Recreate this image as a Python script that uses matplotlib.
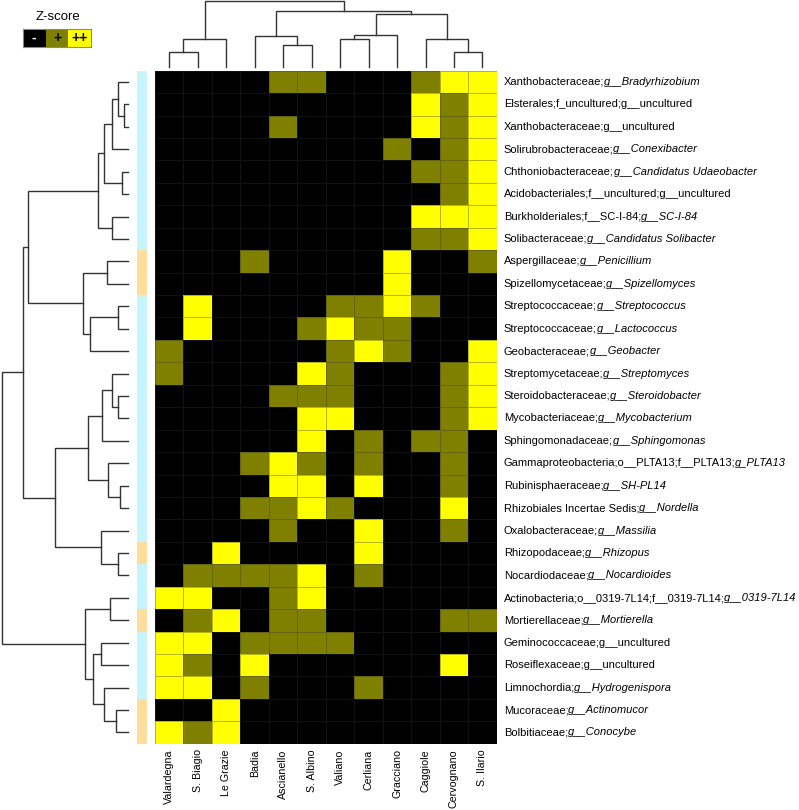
import numpy as np
import matplotlib.pyplot as plt
from matplotlib.colors import ListedColormap, BoundaryNorm

plt.rcParams['font.family'] = ['Liberation Sans', 'DejaVu Sans']

sites = ["Valardegna", "S. Biagio", "Le Grazie", "Badia", "Ascianello", "S. Albino",
         "Valiano", "Cerliana", "Gracciano", "Caggiole", "Cervognano", "S. Ilario"]

# row labels: (plain part, italic part)
taxa = [
    ("Xanthobacteraceae;", "g__Bradyrhizobium"),
    ("Elsterales;f_uncultured;g__uncultured", ""),
    ("Xanthobacteraceae;g__uncultured", ""),
    ("Solirubrobacteraceae;", "g__Conexibacter"),
    ("Chthoniobacteraceae;", "g__Candidatus Udaeobacter"),
    ("Acidobacteriales;f__uncultured;g__uncultured", ""),
    ("Burkholderiales;f__SC-I-84;", "g__SC-I-84"),
    ("Solibacteraceae;", "g__Candidatus Solibacter"),
    ("Aspergillaceae;", "g__Penicillium"),
    ("Spizellomycetaceae;", "g__Spizellomyces"),
    ("Streptococcaceae;", "g__Streptococcus"),
    ("Streptococcaceae;", "g__Lactococcus"),
    ("Geobacteraceae;", "g__Geobacter"),
    ("Streptomycetaceae;", "g__Streptomyces"),
    ("Steroidobacteraceae;", "g__Steroidobacter"),
    ("Mycobacteriaceae;", "g__Mycobacterium"),
    ("Sphingomonadaceae;", "g__Sphingomonas"),
    ("Gammaproteobacteria;o__PLTA13;f__PLTA13;", "g_PLTA13"),
    ("Rubinisphaeraceae;", "g__SH-PL14"),
    ("Rhizobiales Incertae Sedis;", "g__Nordella"),
    ("Oxalobacteraceae;", "g__Massilia"),
    ("Rhizopodaceae;", "g__Rhizopus"),
    ("Nocardiodaceae;", "g__Nocardioides"),
    ("Actinobacteria;o__0319-7L14;f__0319-7L14;", "g__0319-7L14"),
    ("Mortierellaceae;", "g__Mortierella"),
    ("Geminococcaceae;g__uncultured", ""),
    ("Roseiflexaceae;g__uncultured", ""),
    ("Limnochordia;", "g__Hydrogenispora"),
    ("Mucoraceae;", "g__Actinomucor"),
    ("Bolbitiaceae;", "g__Conocybe"),
]

# 0 = bacteria, 1 = fungi
kingdom = [0, 0, 0, 0, 0, 0, 0, 0, 1, 1,
           0, 0, 0, 0, 0, 0, 0, 0, 0, 0,
           0, 1, 0, 0, 1, 0, 0, 0, 1, 1]

# Z-score class: 0 = "-", 1 = "+", 2 = "++"
zclass = [
    [0, 0, 0, 0, 1, 1, 0, 0, 0, 1, 2, 2],
    [0, 0, 0, 0, 0, 0, 0, 0, 0, 2, 1, 2],
    [0, 0, 0, 0, 1, 0, 0, 0, 0, 2, 1, 2],
    [0, 0, 0, 0, 0, 0, 0, 0, 1, 0, 1, 2],
    [0, 0, 0, 0, 0, 0, 0, 0, 0, 1, 1, 2],
    [0, 0, 0, 0, 0, 0, 0, 0, 0, 0, 1, 2],
    [0, 0, 0, 0, 0, 0, 0, 0, 0, 2, 2, 2],
    [0, 0, 0, 0, 0, 0, 0, 0, 0, 1, 1, 2],
    [0, 0, 0, 1, 0, 0, 0, 0, 2, 0, 0, 1],
    [0, 0, 0, 0, 0, 0, 0, 0, 2, 0, 0, 0],
    [0, 2, 0, 0, 0, 0, 1, 1, 2, 1, 0, 0],
    [0, 2, 0, 0, 0, 1, 2, 1, 1, 0, 0, 0],
    [1, 0, 0, 0, 0, 0, 1, 2, 1, 0, 0, 2],
    [1, 0, 0, 0, 0, 2, 1, 0, 0, 0, 1, 2],
    [0, 0, 0, 0, 1, 1, 1, 0, 0, 0, 1, 2],
    [0, 0, 0, 0, 0, 2, 2, 0, 0, 0, 1, 2],
    [0, 0, 0, 0, 0, 2, 0, 1, 0, 1, 1, 0],
    [0, 0, 0, 1, 2, 1, 0, 1, 0, 0, 1, 0],
    [0, 0, 0, 0, 2, 2, 0, 2, 0, 0, 1, 0],
    [0, 0, 0, 1, 1, 2, 1, 0, 0, 0, 2, 0],
    [0, 0, 0, 0, 1, 0, 0, 2, 0, 0, 1, 0],
    [0, 0, 2, 0, 0, 0, 0, 2, 0, 0, 0, 0],
    [0, 1, 1, 1, 1, 2, 0, 1, 0, 0, 0, 0],
    [2, 2, 0, 0, 1, 2, 0, 0, 0, 0, 0, 0],
    [0, 1, 2, 0, 1, 1, 0, 0, 0, 0, 1, 1],
    [2, 2, 0, 1, 1, 1, 1, 0, 0, 0, 0, 0],
    [2, 1, 0, 2, 0, 0, 0, 0, 0, 0, 2, 0],
    [2, 2, 0, 1, 0, 0, 0, 1, 0, 0, 0, 0],
    [0, 0, 2, 0, 0, 0, 0, 0, 0, 0, 0, 0],
    [2, 1, 2, 0, 0, 0, 0, 0, 0, 0, 0, 0],
]

# dendrogram merges (child a, child b, height); ids >= n are earlier merges
col_merges = [
    (0, 1, 15), (12, 2, 27.4), (4, 5, 21.7), (3, 14, 31),
    (6, 7, 27.4), (16, 8, 32), (10, 11, 15), (9, 18, 27.4),
    (17, 19, 52.7), (15, 20, 56), (13, 21, 66),
]
row_merges = [
    (1, 2, 3.7), (0, 30, 9.4), (31, 3, 15.4), (4, 5, 6), (32, 33, 23.4),
    (6, 7, 15.4), (34, 35, 29.4), (8, 9, 21), (10, 11, 9.4), (38, 12, 37.7),
    (37, 39, 45), (36, 40, 100), (14, 15, 9.4), (13, 42, 15.4), (43, 16, 26),
    (18, 19, 7.7), (17, 45, 19.4), (44, 46, 39.4), (21, 22, 9.4), (20, 48, 26.7),
    (47, 49, 72.7), (41, 50, 105), (23, 24, 17.7), (25, 26, 26.7), (28, 29, 12),
    (27, 54, 23.4), (53, 55, 35), (52, 56, 42.7), (51, 57, 126),
]

zcolors = ["#000000", "#808000", "#FFFF00"]
kcolors = ["#C8F5FB", "#FDDE9C"]
line_col = "#333333"

W, H = 799, 810
fig = plt.figure(figsize=(W / 100, H / 100), dpi=100)


def px_axes(x0, y0, x1, y1):
    return fig.add_axes([x0 / W, 1 - y1 / H, (x1 - x0) / W, (y1 - y0) / H])


def draw_dendro(ax, merges, n, side):
    pos = {i: float(i) for i in range(n)}
    hgt = {i: 0.0 for i in range(n)}
    for k, (a, b, h) in enumerate(merges):
        p = [pos[a], pos[a], pos[b], pos[b]]
        q = [hgt[a], h, h, hgt[b]]
        if side == "top":
            ax.plot(p, q, color=line_col, lw=1.0, clip_on=False, solid_joinstyle="miter")
        else:
            ax.plot(q, p, color=line_col, lw=1.0, clip_on=False, solid_joinstyle="miter")
        pos[n + k] = (pos[a] + pos[b]) / 2
        hgt[n + k] = h
    ax.axis("off")


nrow, ncol = len(taxa), len(sites)
hx0, hx1, hy0, hy1 = 155, 496.7, 70.7, 743.7

# heatmap
ax = px_axes(hx0, hy0, hx1, hy1)
cmap = ListedColormap(zcolors)
norm = BoundaryNorm([-0.5, 0.5, 1.5, 2.5], 3)
ax.pcolormesh(np.arange(ncol + 1) - 0.5, np.arange(nrow + 1) - 0.5, np.array(zclass),
              cmap=cmap, norm=norm, edgecolors=(0.2, 0.2, 0.2, 0.35), linewidth=0.4)
ax.set_xlim(-0.5, ncol - 0.5)
ax.set_ylim(nrow - 0.5, -0.5)
ax.set_xticks(range(ncol))
ax.set_xticklabels(sites, rotation=90, fontsize=7.7)
ax.tick_params(axis="x", length=0, pad=4)
ax.set_yticks([])
for s in ax.spines.values():
    s.set_visible(False)

# row labels, plain part followed by italic part
cell_px = (hx1 - hx0) / ncol
for i, (plain, ital) in enumerate(taxa):
    t = ax.text(ncol - 0.5 + 7 / cell_px, i, plain, fontsize=8, va="center", ha="left")
    if ital:
        ax.annotate(ital, xy=(1, 0), xycoords=t, va="bottom", ha="left",
                    fontsize=8, style="italic")

# row side colours
axk = px_axes(136.7, hy0, 146.7, hy1)
axk.pcolormesh([0, 1], np.arange(nrow + 1) - 0.5, np.array(kingdom)[:, None],
               cmap=ListedColormap(kcolors), vmin=0, vmax=1)
axk.set_ylim(nrow - 0.5, -0.5)
axk.axis("off")

# dendrograms
axc = px_axes(hx0, 0.7, hx1, 66.7)
draw_dendro(axc, col_merges, ncol, "top")
axc.set_xlim(-0.5, ncol - 0.5)
axc.set_ylim(0, 66)

axr = px_axes(1.7, hy0, 127.7, hy1)
draw_dendro(axr, row_merges, nrow, "left")
axr.set_xlim(126, 0)
axr.set_ylim(nrow - 0.5, -0.5)

# Z-score key
fig.text(58 / W, 1 - 17 / H, "Z-score", fontsize=9.5, ha="center", va="center")
axz = px_axes(22.7, 29, 91.3, 46.7)
axz.pcolormesh([0, 1, 2, 3], [0, 1], np.array([[0, 1, 2]]), cmap=cmap, norm=norm)
for j, (lab, c) in enumerate(zip(["-", "+", "++"], ["white", "black", "black"])):
    axz.text(j + 0.5, 0.5, lab, color=c, fontsize=10, ha="center", va="center",
             fontweight="bold")
axz.set_xlim(0, 3)
axz.set_ylim(0, 1)
axz.set_xticks([])
axz.set_yticks([])
for s in axz.spines.values():
    s.set_color("#888888")
    s.set_linewidth(0.8)

fig.savefig("out.png", dpi=100)
